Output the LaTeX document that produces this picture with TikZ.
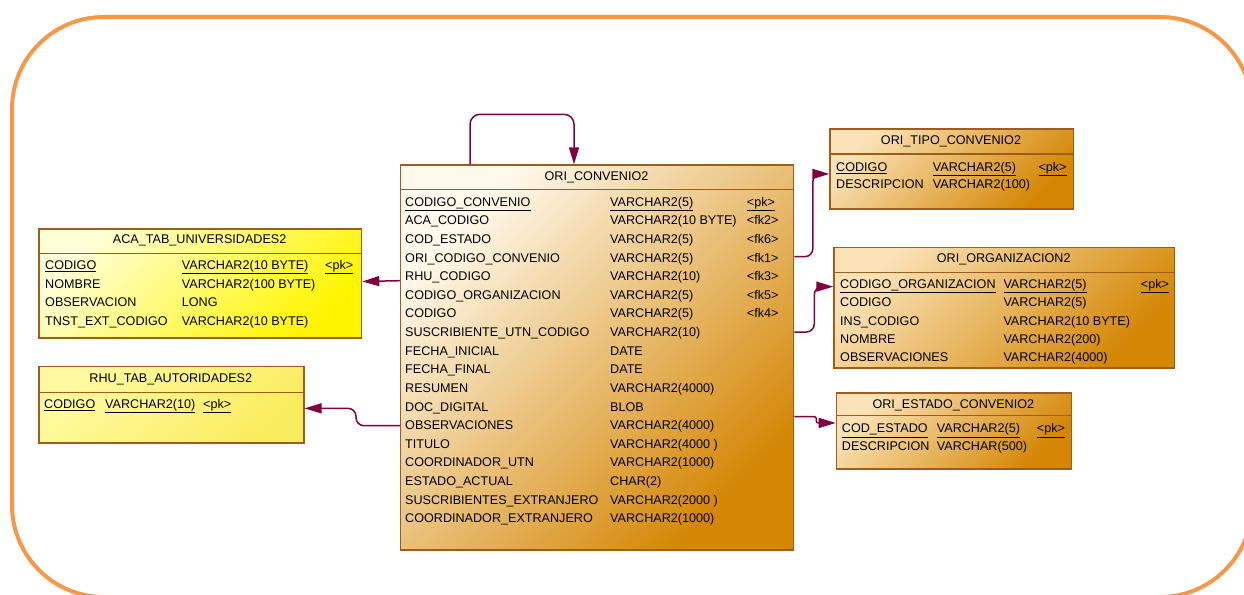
\documentclass[tikz,border=0pt]{standalone}
\usepackage{fontspec}
\setmainfont{Liberation Sans}
\usepackage{tikz}
\usetikzlibrary{arrows.meta}

\definecolor{contorno}{RGB}{247,151,72}
\definecolor{borde}{RGB}{160,92,24}
\definecolor{relacion}{RGB}{128,0,64}
\definecolor{crema}{RGB}{255,249,236}
\definecolor{durazno}{RGB}{250,226,182}
\definecolor{ocre}{RGB}{238,182,96}
\definecolor{naranja}{RGB}{212,134,4}
\definecolor{amarilloclaro}{RGB}{255,255,215}
\definecolor{amarillo}{RGB}{255,245,0}
\definecolor{paja}{RGB}{255,250,160}
\definecolor{pajaosc}{RGB}{250,236,95}

\newcommand{\letra}{\fontsize{12.6}{15}\selectfont}

\tikzset{
  tabla/.style={draw=borde, line width=1.3pt, inner sep=0pt, anchor=north west,
    top color=crema, middle color=ocre, bottom color=naranja, shading angle=45},
  tablachica/.style={tabla, top color=durazno, middle color=ocre, bottom color=naranja, shading angle=45},
  tablaamarilla/.style={tabla, top color=amarilloclaro, bottom color=amarillo, shading angle=45},
  tablapaja/.style={tabla, top color=paja, bottom color=pajaosc, shading angle=45},
  linea/.style={draw=borde, line width=1.3pt},
  titulo/.style={font=\letra, inner sep=0pt},
  campo/.style={font=\letra, inner sep=0pt, anchor=base west},
  fk/.style={draw=relacion, line width=1.5pt, rounded corners=8pt,
    -{Triangle[length=17pt,width=10pt]}},
  marco/.style={draw=contorno, line width=4pt, rounded corners=92pt}
}

\begin{document}
\begin{tikzpicture}[x=1pt,y=-1pt]
\clip (0,0) rectangle (1244,594);
\draw[marco] (12,17) rectangle (1252,597);

% ORI_CONVENIO2
\node[tabla, minimum width=393pt, minimum height=385pt] (conv) at (400,164.3) {};
\draw[linea] (400,189.3) -- (793,189.3);
\node[titulo] (conv-titulo) at (596.5,177) {ORI\_CONVENIO2};
\node[campo] (conv-n1) at (405,206.2) {\underline{CODIGO\_CONVENIO}};
\node[campo] (conv-t1) at (610,206.2) {\underline{VARCHAR2(5)}};
\node[campo] (conv-k1) at (746.7,206.2) {\underline{<pk>}};
\foreach \n/\t [count=\i from 2] in {ACA\_CODIGO/VARCHAR2(10 BYTE), COD\_ESTADO/VARCHAR2(5),
    ORI\_CODIGO\_CONVENIO/VARCHAR2(5), RHU\_CODIGO/VARCHAR2(10),
    CODIGO\_ORGANIZACION/VARCHAR2(5), CODIGO/VARCHAR2(5),
    SUSCRIBIENTE\_UTN\_CODIGO/VARCHAR2(10), FECHA\_INICIAL/DATE, FECHA\_FINAL/DATE,
    RESUMEN/VARCHAR2(4000), DOC\_DIGITAL/BLOB, OBSERVACIONES/VARCHAR2(4000),
    TITULO/VARCHAR2(4000 ), COORDINADOR\_UTN/VARCHAR2(1000), ESTADO\_ACTUAL/CHAR(2),
    SUSCRIBIENTES\_EXTRANJERO/VARCHAR2(2000 ), COORDINADOR\_EXTRANJERO/VARCHAR2(1000)}{
  \node[campo] (conv-n\i) at (405,{206.2+18.62*(\i-1)}) {\n};
  \node[campo] (conv-t\i) at (610,{206.2+18.62*(\i-1)}) {\t};
}
\foreach \k [count=\i from 2] in {fk2,fk6,fk1,fk3,fk5,fk4}
  \node[campo] (conv-k\i) at (746.7,{206.2+18.62*(\i-1)}) {<\k>};

% ACA_TAB_UNIVERSIDADES2
\node[tablaamarilla, minimum width=322.7pt, minimum height=109pt] (aca) at (38.3,228.3) {};
\draw[linea] (38.3,253.3) -- (361,253.3);
\node[titulo] (aca-titulo) at (199.7,240.7) {ACA\_TAB\_UNIVERSIDADES2};
\node[campo] (aca-n1) at (45,269.5) {\underline{CODIGO}};
\node[campo] (aca-t1) at (181.7,269.5) {\underline{VARCHAR2(10 BYTE)}};
\node[campo] (aca-k1) at (325,269.5) {\underline{<pk>}};
\foreach \n/\t [count=\i from 2] in {NOMBRE/VARCHAR2(100 BYTE), OBSERVACION/LONG,
    TNST\_EXT\_CODIGO/VARCHAR2(10 BYTE)}{
  \node[campo] (aca-n\i) at (45,{269.5+18.6*(\i-1)}) {\n};
  \node[campo] (aca-t\i) at (181.7,{269.5+18.6*(\i-1)}) {\t};
}

% RHU_TAB_AUTORIDADES2
\node[tablapaja, minimum width=265pt, minimum height=76.6pt] (rhu) at (38.3,365.7) {};
\draw[linea] (38.3,392.3) -- (303.3,392.3);
\node[titulo] (rhu-titulo) at (170.8,379) {RHU\_TAB\_AUTORIDADES2};
\node[campo] (rhu-n1) at (44,408.5) {\underline{CODIGO}};
\node[campo] (rhu-t1) at (105,408.5) {\underline{VARCHAR2(10)}};
\node[campo] (rhu-k1) at (203,408.5) {\underline{<pk>}};

% ORI_TIPO_CONVENIO2
\node[tablachica, minimum width=243.4pt, minimum height=80pt] (tipo) at (829.3,128.3) {};
\draw[linea] (829.3,154) -- (1072.7,154);
\node[titulo] (tipo-titulo) at (951,141.7) {ORI\_TIPO\_CONVENIO2};
\node[campo] (tipo-n1) at (836,171.2) {\underline{CODIGO}};
\node[campo] (tipo-t1) at (932.7,171.2) {\underline{VARCHAR2(5)}};
\node[campo] (tipo-k1) at (1038.3,171.2) {\underline{<pk>}};
\node[campo] (tipo-n2) at (836,188.3) {DESCRIPCION};
\node[campo] (tipo-t2) at (932.7,188.3) {VARCHAR2(100)};

% ORI_ORGANIZACION2
\node[tablachica, minimum width=340.7pt, minimum height=120.6pt] (org) at (833.3,246.7) {};
\draw[linea] (833.3,272.3) -- (1174,272.3);
\node[titulo] (org-titulo) at (1003.7,259) {ORI\_ORGANIZACION2};
\node[campo] (org-n1) at (840,288.5) {\underline{CODIGO\_ORGANIZACION}};
\node[campo] (org-t1) at (1003.3,288.5) {\underline{VARCHAR2(5)}};
\node[campo] (org-k1) at (1140.7,288.5) {\underline{<pk>}};
\foreach \n/\t [count=\i from 2] in {CODIGO/VARCHAR2(5), INS\_CODIGO/VARCHAR2(10 BYTE),
    NOMBRE/VARCHAR2(200), OBSERVACIONES/VARCHAR2(4000)}{
  \node[campo] (org-n\i) at (840,{288.5+18.35*(\i-1)}) {\n};
  \node[campo] (org-t\i) at (1003.3,{288.5+18.35*(\i-1)}) {\t};
}

% ORI_ESTADO_CONVENIO2
\node[tablachica, minimum width=235.3pt, minimum height=76pt] (estado) at (835.7,392.3) {};
\draw[linea] (835.7,415.7) -- (1071,415.7);
\node[titulo] (estado-titulo) at (953.3,405.7) {ORI\_ESTADO\_CONVENIO2};
\node[campo] (estado-n1) at (841.7,432.8) {\underline{COD\_ESTADO}};
\node[campo] (estado-t1) at (936.7,432.8) {\underline{VARCHAR2(5)}};
\node[campo] (estado-k1) at (1036.7,432.8) {\underline{<pk>}};
\node[campo] (estado-n2) at (841.7,450.8) {DESCRIPCION};
\node[campo] (estado-t2) at (936.7,450.8) {VARCHAR(500)};

% relaciones
\draw[fk, rounded corners=10pt] ([xshift=70pt]conv.north west) -- ++(0,-50) -| ([xshift=174pt]conv.north west);
\draw[fk] ([yshift=-116.4pt]conv.north west) -- ([yshift=2pt]aca.east);
\draw[fk] ([yshift=-261.4pt]conv.north west) -- ++(-44,0) |- ([yshift=-3.7pt]rhu.east);
\draw[fk] ([yshift=-92.4pt]conv.north east) -- ++(18.5,0) |- ([yshift=-5pt]tipo.west);
\draw[fk] ([yshift=-167.7pt]conv.north east) -- ++(20,0) |- ([yshift=21pt]org.west);
\draw[fk, rounded corners=2pt] ([yshift=-252.4pt]conv.north east) -- ++(22,0) |- ([yshift=8pt]estado.west);
\end{tikzpicture}
\end{document}
